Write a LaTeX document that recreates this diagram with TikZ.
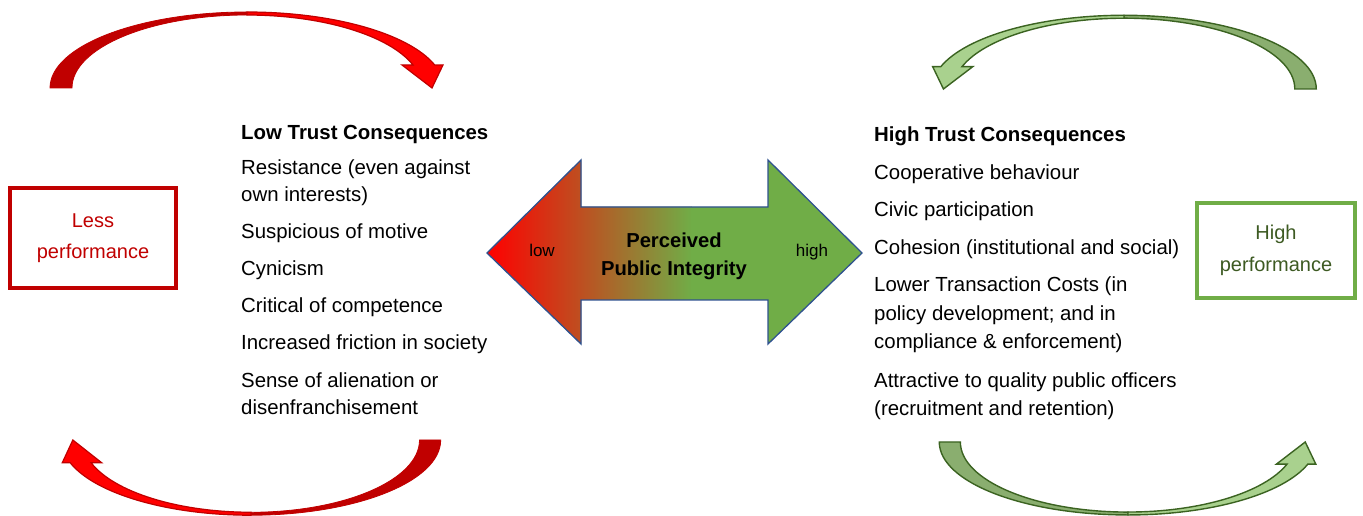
\documentclass[tikz,border=0pt]{standalone}
\usepackage{fontspec}
\setmainfont{Liberation Sans}
\definecolor{redDark}{HTML}{C00000}
\definecolor{redBright}{HTML}{FF0000}
\definecolor{greenTail}{HTML}{8AAE6F}
\definecolor{greenHead}{HTML}{A9D18E}
\definecolor{greenEdge}{HTML}{3B6321}
\definecolor{boxGreen}{HTML}{70AD47}
\definecolor{boxGreenText}{HTML}{3D5A22}
\definecolor{arrowEdge}{HTML}{2F528F}
\definecolor{integrityGreen}{HTML}{70AD47}

% curved loop arrow: tail half, then head half (local frame, y up)
\newcommand{\looparrow}[4]{%
  \begin{scope}[#1]
    \filldraw[#2] (-197,0) arc[start angle=180,end angle=90,x radius=197,y radius=76]
      -- (0,73) arc[start angle=90,end angle=180,x radius=175,y radius=73] -- cycle;
    \filldraw[#3] (0,76) arc[start angle=90,end angle=17.6,x radius=197,y radius=76]
      -- (196,23) -- (185,0) -- (155,23) -- (166,23)
      arc[start angle=18.4,end angle=90,x radius=175,y radius=73] -- cycle;
  \end{scope}}

\newcommand{\integrityoutline}{(487,263) -- (581,356) -- (581,309) -- (768,309) -- (768,356)
  -- (862,263) -- (768,172) -- (768,216) -- (581,216) -- (581,172) -- cycle}

\tikzset{
  txt/.style={anchor=base west, inner sep=0pt, font=\fontsize{20.4}{24}\selectfont},
  txthead/.style={txt, font=\fontsize{20.4}{24}\selectfont\bfseries},
  perfbox/.style={draw, rectangle, inner sep=0pt, align=center,
    font=\fontsize{20}{31}\selectfont},
  lessbox/.style={perfbox, draw=redDark, line width=4.5pt, text=redDark,
    minimum width=166pt, minimum height=100pt},
  highbox/.style={perfbox, draw=boxGreen, line width=4pt, text=boxGreenText,
    minimum width=158pt, minimum height=95pt, font=\fontsize{20}{32}\selectfont},
  redtail/.style={fill=redDark, draw=redDark, line width=0.8pt},
  redhead/.style={fill=redBright, draw=redDark, line width=1.2pt},
  greentail/.style={fill=greenTail, draw=greenEdge, line width=1.4pt},
  greenhead/.style={fill=greenHead, draw=greenEdge, line width=1.4pt},
  scalelabel/.style={anchor=base, inner sep=0pt, font=\fontsize{17}{20}\selectfont},
  centrelabel/.style={anchor=base, inner sep=0pt, font=\fontsize{20.2}{24}\selectfont\bfseries}
}

\begin{document}
\begin{tikzpicture}[x=1pt,y=1pt]
\useasboundingbox (0,0) rectangle (1363,516);

% loop arrows
\looparrow{shift={(247,428)}}{redtail}{redhead}{}
\looparrow{shift={(251,76)},xscale=-0.963,yscale=-0.99}{redtail}{redhead}{}
\looparrow{shift={(1124,427)},xscale=-0.976,yscale=0.97}{greentail}{greenhead}{}
\looparrow{shift={(1128,74)},xscale=0.958,yscale=-0.96}{greentail}{greenhead}{}

% performance boxes
\node[lessbox] (less) at (93,278) {Less\\performance};
\node[highbox] (high) at (1276,265.5) {High\\performance};

% perceived public integrity double arrow
\begin{scope}
  \clip \integrityoutline;
  \fill[left color=redBright, right color=integrityGreen] (487,160) rectangle (692,360);
  \fill[integrityGreen] (691,160) rectangle (870,360);
\end{scope}
\draw[arrowEdge, line width=1.3pt, line join=miter] \integrityoutline;
\node[scalelabel] (low) at (542,259) {low};
\node[scalelabel] (highlbl) at (812,259) {high};
\node[centrelabel] (pi1) at (674,268) {Perceived};
\node[centrelabel] (pi2) at (674,240) {Public Integrity};

% low trust consequences
\node[txthead] (lt0) at (241,376) {Low Trust Consequences};
\node[txt] (lt1) at (241,341) {Resistance (even against};
\node[txt] (lt1b) at (241,314) {own interests)};
\node[txt] (lt2) at (241,277) {Suspicious of motive};
\node[txt] (lt3) at (241,240) {Cynicism};
\node[txt] (lt4) at (241,203) {Critical of competence};
\node[txt] (lt5) at (241,166) {Increased friction in society};
\node[txt] (lt6) at (241,128) {Sense of alienation or};
\node[txt] (lt6b) at (241,101) {disenfranchisement};

% high trust consequences
\node[txthead] (ht0) at (874,374) {High Trust Consequences};
\node[txt] (ht1) at (874,336) {Cooperative behaviour};
\node[txt] (ht2) at (874,299) {Civic participation};
\node[txt] (ht3) at (874,261) {Cohesion (institutional and social)};
\node[txt] (ht4) at (874,224) {Lower Transaction Costs (in};
\node[txt] (ht4b) at (874,195) {policy development; and in};
\node[txt] (ht4c) at (874,167) {compliance \& enforcement)};
\node[txt] (ht5) at (874,128) {Attractive to quality public officers};
\node[txt] (ht5b) at (874,100) {(recruitment and retention)};
\end{tikzpicture}
\end{document}
